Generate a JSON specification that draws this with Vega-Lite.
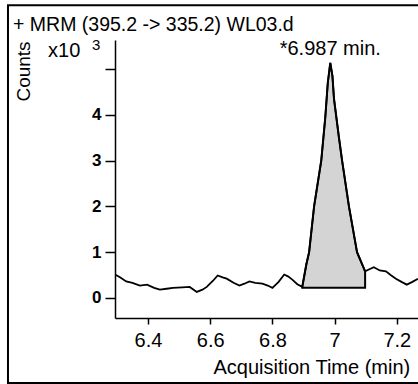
{
  "$schema": "https://vega.github.io/schema/vega-lite/v6.json",
  "autosize": {"type": "none"},
  "padding": {"left": 115, "top": 40, "right": 0, "bottom": 66},
  "width": 303,
  "height": 278,
  "background": "white",
  "title": {
    "text": "+ MRM (395.2 -> 335.2) WL03.d",
    "anchor": "start",
    "frame": "group",
    "dx": -102,
    "dy": 35,
    "font": "Liberation Sans",
    "fontSize": 19.5,
    "fontWeight": "normal",
    "color": "black"
  },
  "config": {
    "view": {"stroke": null},
    "font": "Liberation Sans",
    "axis": {
      "domainColor": "black",
      "domainWidth": 1.5,
      "tickColor": "black",
      "tickWidth": 1.5,
      "labelColor": "black",
      "titleColor": "black",
      "labelFont": "Liberation Sans",
      "titleFont": "Liberation Sans",
      "grid": false
    }
  },
  "data": {
    "values": [
      {"t": 6.294, "c": 0.51, "peak": false},
      {"t": 6.31, "c": 0.45, "peak": false},
      {"t": 6.33, "c": 0.36, "peak": false},
      {"t": 6.35, "c": 0.33, "peak": false},
      {"t": 6.374, "c": 0.27, "peak": false},
      {"t": 6.397, "c": 0.29, "peak": false},
      {"t": 6.42, "c": 0.22, "peak": false},
      {"t": 6.438, "c": 0.18, "peak": false},
      {"t": 6.46, "c": 0.2, "peak": false},
      {"t": 6.48, "c": 0.22, "peak": false},
      {"t": 6.51, "c": 0.23, "peak": false},
      {"t": 6.534, "c": 0.24, "peak": false},
      {"t": 6.557, "c": 0.13, "peak": false},
      {"t": 6.575, "c": 0.18, "peak": false},
      {"t": 6.589, "c": 0.24, "peak": false},
      {"t": 6.61, "c": 0.38, "peak": false},
      {"t": 6.624, "c": 0.49, "peak": false},
      {"t": 6.64, "c": 0.45, "peak": false},
      {"t": 6.653, "c": 0.42, "peak": false},
      {"t": 6.675, "c": 0.33, "peak": false},
      {"t": 6.694, "c": 0.27, "peak": false},
      {"t": 6.71, "c": 0.31, "peak": false},
      {"t": 6.726, "c": 0.36, "peak": false},
      {"t": 6.745, "c": 0.33, "peak": false},
      {"t": 6.768, "c": 0.31, "peak": false},
      {"t": 6.785, "c": 0.27, "peak": false},
      {"t": 6.8, "c": 0.22, "peak": false},
      {"t": 6.82, "c": 0.35, "peak": false},
      {"t": 6.838, "c": 0.51, "peak": false},
      {"t": 6.85, "c": 0.47, "peak": false},
      {"t": 6.864, "c": 0.4, "peak": false},
      {"t": 6.88, "c": 0.3, "peak": false},
      {"t": 6.896, "c": 0.24, "peak": true},
      {"t": 6.909, "c": 0.73, "peak": true},
      {"t": 6.918, "c": 1.0, "peak": true},
      {"t": 6.934, "c": 2.0, "peak": true},
      {"t": 6.957, "c": 3.0, "peak": true},
      {"t": 6.97, "c": 3.95, "peak": true},
      {"t": 6.978, "c": 4.7, "peak": true},
      {"t": 6.986, "c": 5.14, "peak": true, "note": "*6.987 min."},
      {"t": 6.993, "c": 4.85, "peak": true},
      {"t": 6.998, "c": 4.35, "peak": true},
      {"t": 7.014, "c": 3.5, "peak": true},
      {"t": 7.024, "c": 3.0, "peak": true},
      {"t": 7.046, "c": 2.0, "peak": true},
      {"t": 7.072, "c": 1.0, "peak": true},
      {"t": 7.098, "c": 0.58, "peak": true},
      {"t": 7.11, "c": 0.62, "peak": false},
      {"t": 7.126, "c": 0.67, "peak": false},
      {"t": 7.145, "c": 0.6, "peak": false},
      {"t": 7.165, "c": 0.58, "peak": false},
      {"t": 7.18, "c": 0.5, "peak": false},
      {"t": 7.197, "c": 0.42, "peak": false},
      {"t": 7.215, "c": 0.35, "peak": false},
      {"t": 7.232, "c": 0.29, "peak": false},
      {"t": 7.25, "c": 0.35, "peak": false},
      {"t": 7.268, "c": 0.42, "peak": false}
    ]
  },
  "encoding": {
    "x": {
      "field": "t",
      "type": "quantitative",
      "scale": {"domain": [6.294, 7.268], "nice": false, "zero": false},
      "axis": {
        "values": [6.4, 6.6, 6.8, 7, 7.2],
        "format": "~g",
        "labelFontSize": 20,
        "labelPadding": 6,
        "tickSize": 6,
        "title": "Acquisition Time (min)",
        "titleFontSize": 20,
        "titleFontWeight": "normal",
        "titleAnchor": "start",
        "titleAlign": "left",
        "titleBaseline": "alphabetic",
        "titleX": 98,
        "titleY": 55
      }
    },
    "y": {
      "field": "c",
      "type": "quantitative",
      "scale": {"domain": [-0.44, 5.64], "nice": false, "zero": false},
      "axis": {
        "values": [0, 1, 2, 3, 4, 5],
        "labelExpr": "datum.value == 5 ? '' : datum.label",
        "labelFontSize": 17,
        "labelFontWeight": "bold",
        "labelPadding": 4,
        "tickSize": 10,
        "title": "Counts",
        "titleFontSize": 19,
        "titleFontWeight": "normal",
        "titleAngle": 270,
        "titleAlign": "center",
        "titleBaseline": "middle",
        "titleX": -92,
        "titleY": 31
      }
    }
  },
  "layer": [
    {
      "transform": [{"filter": "datum.peak"}],
      "mark": {"type": "area", "fill": "#d4d4d4", "stroke": "black", "strokeWidth": 2, "clip": true},
      "encoding": {"y2": {"datum": 0.22}}
    },
    {
      "mark": {"type": "line", "color": "black", "strokeWidth": 1.8, "clip": true}
    },
    {
      "transform": [{"filter": "datum.note"}],
      "mark": {"type": "text", "font": "Liberation Sans", "fontSize": 20, "fontWeight": "normal", "align": "center", "baseline": "alphabetic", "dy": -8, "color": "black"},
      "encoding": {"text": {"field": "note"}}
    },
    {
      "transform": [{"filter": "datum.t == 6.294"}],
      "mark": {"type": "text", "text": "x10", "font": "Liberation Sans", "fontSize": 20, "fontWeight": "normal", "align": "left", "baseline": "alphabetic", "color": "black"},
      "encoding": {"x": {"datum": 6.079}, "y": {"datum": 5.27}}
    },
    {
      "transform": [{"filter": "datum.t == 6.294"}],
      "mark": {"type": "text", "text": "3", "font": "Liberation Sans", "fontSize": 15, "fontWeight": "normal", "align": "left", "baseline": "alphabetic", "color": "black"},
      "encoding": {"x": {"datum": 6.22}, "y": {"datum": 5.42}}
    },
    {
      "transform": [{"filter": "datum.t == 6.294"}],
      "mark": {"type": "rect", "fill": null, "stroke": "black", "strokeWidth": 2},
      "encoding": {"x": {"datum": 5.95}, "x2": {"datum": 7.6}, "y": {"datum": 6.4}, "y2": {"datum": -1.86}}
    }
  ]
}
